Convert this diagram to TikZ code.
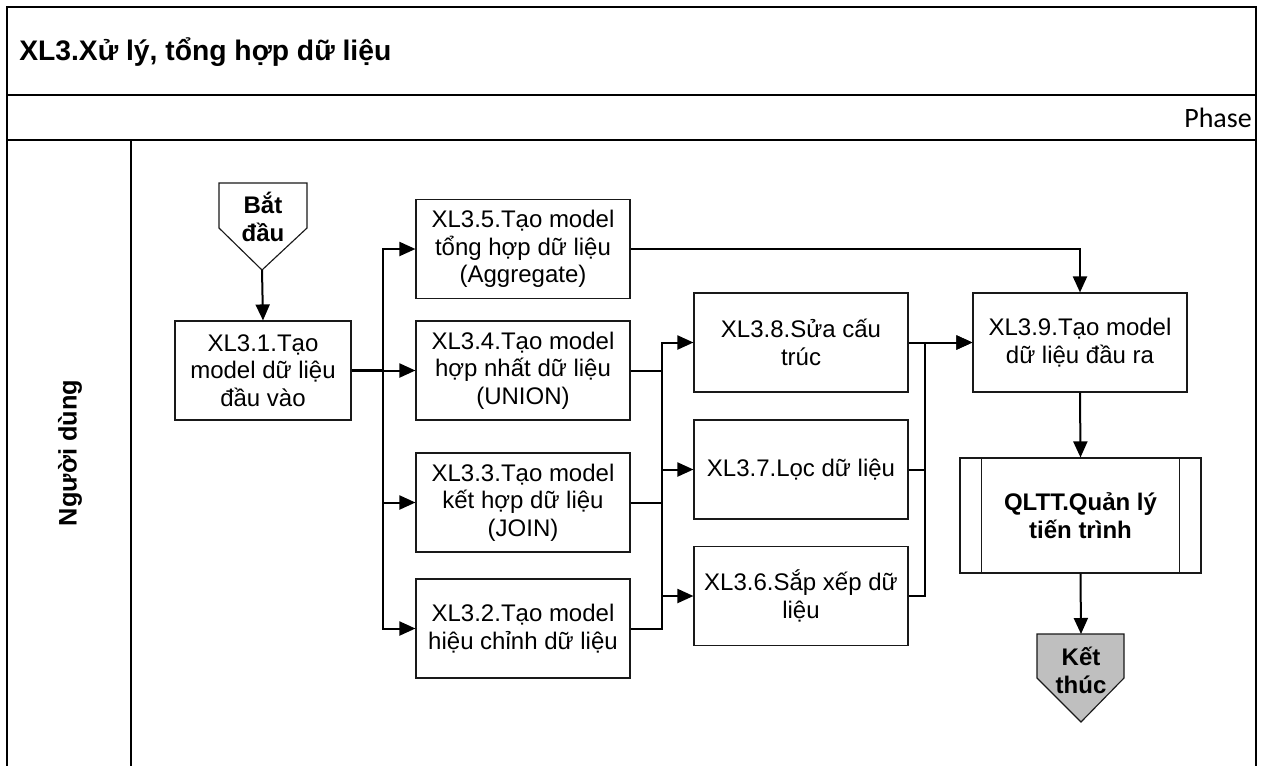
\documentclass[tikz,border=0pt]{standalone}
\usepackage{fontspec}
\setmainfont{Liberation Sans}
\newfontfamily\calfont{Carlito}
\usetikzlibrary{arrows.meta,calc}
\begin{document}
\begin{tikzpicture}[x=0.75pt,y=-0.75pt,
  frame/.style={line width=1.7pt,black},
  box/.style={draw=black!90,line width=0.85pt,rectangle,inner sep=0pt,align=center,
    font=\fontsize{18}{20.5}\selectfont},
  colbox/.style={box,minimum width=160.5pt,minimum height=74.25pt},
  conn/.style={line width=1.5pt,black},
  arr/.style={conn,-{Triangle[length=12pt,width=10.5pt]}},
  boldtxt/.style={font=\bfseries\fontsize{18}{21}\selectfont,align=center,inner sep=0pt}
]
\useasboundingbox (0,0) rectangle (1267,765);
\clip (0,0) rectangle (1267,765);
% swimlane frame
\draw[frame] (7,780) -- (7,7) -- (1256,7) -- (1256,780);
\draw[frame] (7,95) -- (1256,95);
\draw[frame] (7,140) -- (1256,140);
\draw[frame] (131,140) -- (131,780);
\node[anchor=west,inner sep=0pt,font=\bfseries\fontsize{21.2}{24}\selectfont] (title) at (19,52) {XL3.Xử lý, tổng hợp dữ liệu};
\node[anchor=east,inner sep=0pt,font=\calfont\fontsize{21}{24}\selectfont] (phase) at (1252,118) {Phase};
\node[rotate=90,inner sep=0pt,font=\bfseries\fontsize{19}{22}\selectfont] (lane) at (70,453) {Người dùng};
% start terminator
\draw[draw=black!90,line width=0.85pt,fill=white] (219,183) -- (307,183) -- (307,228) -- (262,270) -- (219,228) -- cycle;
\coordinate (startTip) at (262,270);
\node[boldtxt] (start) at (263,217) {Bắt\\đầu};
% end terminator
\draw[draw=black!90,line width=0.85pt,fill=black!25] (1037,634) -- (1124,634) -- (1124,678) -- (1081,722) -- (1037,678) -- cycle;
\coordinate (endTop) at (1081,634);
\node[boldtxt] (end) at (1081,670) {Kết\\thúc};
% process boxes
\node[box,minimum width=132pt,minimum height=74.25pt] (x31) at (263,370.5) {XL3.1.Tạo\\model dữ liệu\\đầu vào};
\node[colbox] (x35) at (523,249) {XL3.5.Tạo model\\tổng hợp dữ liệu\\(Aggregate)};
\node[colbox] (x34) at (523,370.5) {XL3.4.Tạo model\\hợp nhất dữ liệu\\(UNION)};
\node[colbox] (x33) at (523,502.5) {XL3.3.Tạo model\\kết hợp dữ liệu\\(JOIN)};
\node[colbox] (x32) at (523,628.5) {XL3.2.Tạo model\\hiệu chỉnh dữ liệu};
\node[colbox] (x38) at (801,342.5) {XL3.8.Sửa cấu\\trúc};
\node[colbox] (x37) at (801,469.5) {XL3.7.Lọc dữ liệu};
\node[colbox] (x36) at (801,596) {XL3.6.Sắp xếp dữ\\liệu};
\node[colbox] (x39) at (1080,342.5) {XL3.9.Tạo model\\dữ liệu đầu ra};
\node[box,minimum width=180.75pt,minimum height=86.25pt,font=\bfseries\fontsize{18}{21}\selectfont] (qltt) at (1080.5,515.5) {QLTT.Quản lý\\tiến trình};
\draw[draw=black!90,line width=0.85pt] ($(qltt.north west)+(22,0)$) -- ($(qltt.south west)+(22,0)$);
\draw[draw=black!90,line width=0.85pt] ($(qltt.north east)+(-22,0)$) -- ($(qltt.south east)+(-22,0)$);
% trunks
\coordinate (t1) at (383,0);
\coordinate (t2) at (662,0);
\coordinate (t3) at (925,0);
% connectors
\draw[arr] (startTip) -- (x31.north);
\draw[conn,line width=2pt] (x31.east) -- (t1 |- x31.east);
\draw[arr] (x31.east) -- (x34.west);
\draw[arr] (x31.east) -| (t1 |- x35.west) -- (x35.west);
\draw[arr] (x31.east) -| (t1 |- x33.west) -- (x33.west);
\draw[arr] (x31.east) -| (t1 |- x32.west) -- (x32.west);
\draw[conn] (x34.east) -- (t2 |- x34.east);
\draw[conn] (x33.east) -- (t2 |- x33.east);
\draw[arr] (x32.east) -| (t2 |- x38.west) -- (x38.west);
\draw[arr] (t2 |- x37.west) -- (x37.west);
\draw[arr] (t2 |- x36.west) -- (x36.west);
\draw[conn] (x37.east) -- (t3 |- x37.east);
\draw[arr] (x36.east) -| (t3 |- x38.east) -- (x39.west);
\draw[arr] (x38.east) -- (x39.west);
\draw[arr] (x35.east) -| (x39.north);
\draw[arr] (x39.south) -- (qltt.north);
\draw[arr] (qltt.south) -- (endTop);
\end{tikzpicture}
\end{document}
